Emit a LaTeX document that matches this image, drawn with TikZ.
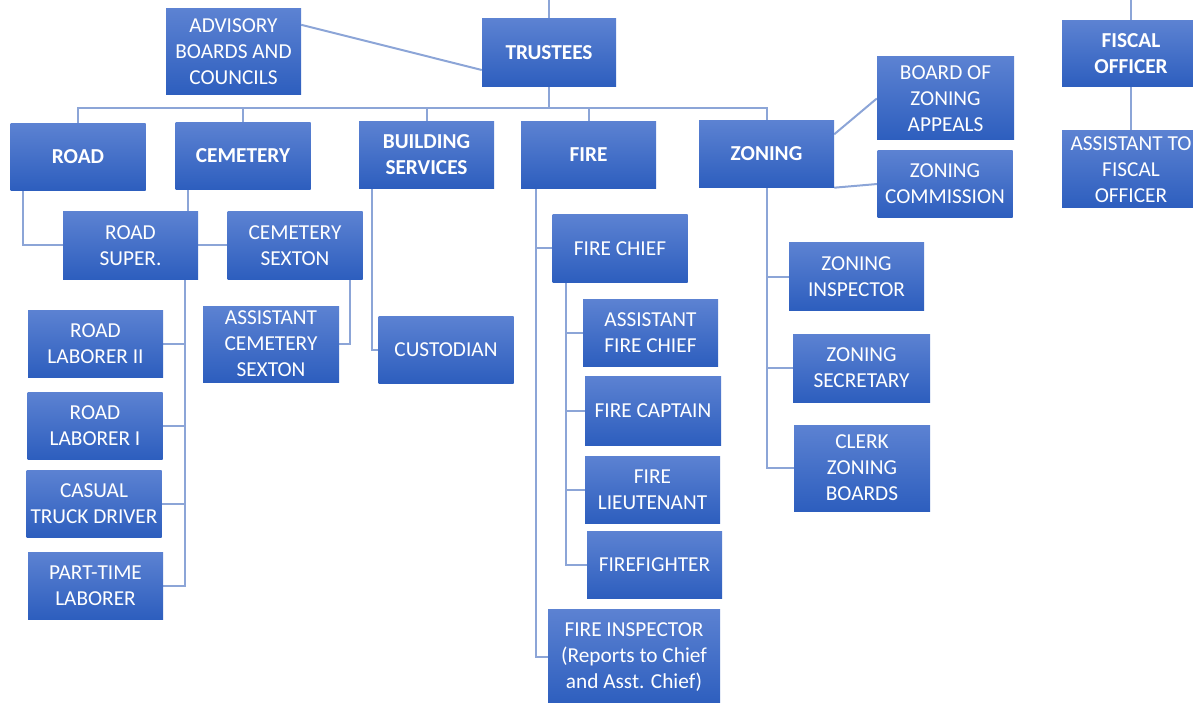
\documentclass[tikz,border=0pt]{standalone}
\usepackage{fontspec}
\setmainfont{Carlito}
\usetikzlibrary{backgrounds}
\definecolor{boxtop}{RGB}{92,130,210}
\definecolor{boxbot}{RGB}{45,94,190}
\definecolor{linkc}{RGB}{140,165,215}

\begin{document}
\begin{tikzpicture}[x=1pt, y=-1pt,
        N/.style = {top color=boxtop, bottom color=boxbot, draw=none,
                    text=white, align=center, inner sep=0pt,
                    minimum width=135pt, minimum height=67pt,
                    font=\fontsize{21.3}{26}\selectfont},
        H/.style = {N, font=\fontsize{21.3}{26}\selectfont\bfseries},
        S/.style 2 args = {minimum width=#1pt, minimum height=#2pt},
        L/.style = {draw=linkc, line width=2pt}
                    ]
        \useasboundingbox (0,0) rectangle (1193,703);
        \clip (0,0) rectangle (1193,703);
        % top row
        \node[N, S={135}{86}] (adv)      at (233.5,52)   {ADVISORY\\BOARDS AND\\COUNCILS};
        \node[H, S={134}{68}] (trustees) at (549,53)     {TRUSTEES};
        \node[H, S={138}{66}] (fiscal)   at (1131,54)    {FISCAL\\OFFICER};
        \node[N, S={138}{77}] (afiscal)  at (1131,169.5) {ASSISTANT TO\\FISCAL\\OFFICER};
        % departments
        \node[H] (road)     at (78,157)    {ROAD};
        \node[H] (cemetery) at (243,156)   {CEMETERY};
        \node[H] (building) at (426.5,155) {BUILDING\\SERVICES};
        \node[H] (fire)     at (588.5,155) {FIRE};
        \node[H] (zoning)   at (766.5,154) {ZONING};
        \node[N, S={137}{83}] (boza) at (945.5,98.5) {BOARD OF\\ZONING\\APPEALS};
        \node[N] (zcomm) at (945,184) {ZONING\\COMMISSION};
        % road
        \node[N] (rsuper)   at (130.5,245.5) {ROAD\\SUPER.};
        \node[N] (rl2)      at (95.5,343.5)  {ROAD\\LABORER II};
        \node[N] (rl1)      at (95,425.5)    {ROAD\\LABORER I};
        \node[N] (truck)    at (94,503.5)    {CASUAL\\TRUCK DRIVER};
        \node[N] (parttime) at (95.5,585.5)  {PART-TIME\\LABORER};
        % cemetery and building
        \node[N] (sexton) at (295,245.5) {CEMETERY\\SEXTON};
        \node[N, S={136}{76}] (asexton) at (271,344) {ASSISTANT\\CEMETERY\\SEXTON};
        \node[N] (custodian) at (446,349.5) {CUSTODIAN};
        % fire
        \node[N] (fchief)  at (620,248.5) {FIRE CHIEF};
        \node[N] (afchief) at (650.5,333) {ASSISTANT\\FIRE CHIEF};
        \node[N, S={136}{69}] (captain) at (653,410.5) {FIRE CAPTAIN};
        \node[N] (lieut)    at (652.5,489.5) {FIRE\\LIEUTENANT};
        \node[N] (ffighter) at (654.5,565)   {FIREFIGHTER};
        \node[N, S={172}{96}] (inspector) at (634,657)
            {FIRE INSPECTOR\\(Reports to Chief\\and Asst. Chief)};
        % zoning
        \node[N] (zinsp) at (856.5,276.5) {ZONING\\INSPECTOR};
        \node[N, S={137}{68}] (zsec)  at (861.5,368) {ZONING\\SECRETARY};
        \node[N, S={136}{86}] (clerk) at (862,468)   {CLERK\\ZONING\\BOARDS};

        % connectors
        \begin{scope}[on background layer]
        \coordinate (tT) at (549,0);
        \coordinate (tF) at (1131,0);
        \draw[L] (tT) -- (trustees.north);
        \draw[L] (tF) -- (fiscal.north);
        \draw[L] (fiscal) -- (afiscal);
        \draw[L] ([yshift=-16pt]adv.north east) -- ([yshift=-17pt]trustees.west);
        \draw[L] (trustees.south) -- ++(0,21) coordinate (bus);
        \foreach \d in {road,cemetery,building,fire,zoning}
            \draw[L] (bus) -| (\d.north);
        \draw[L] ([yshift=-14pt]zoning.north east) -- (boza.west);
        \draw[L] (zoning.south east) -- (zcomm.west);
        \draw[L] ([xshift=13pt]road.south west) |- (rsuper.west);
        \draw[L] ([xshift=13pt]cemetery.south west) |- (sexton.west);
        \draw[L] ([xshift=-13pt]sexton.south east) |- (asexton.east);
        \foreach \r in {rl2,rl1,truck,parttime}
            \draw[L] ([xshift=-13pt]rsuper.south east) |- (\r.east);
        \draw[L] ([xshift=13pt]building.south west) |- (custodian.west);
        \foreach \f in {fchief,inspector}
            \draw[L] ([xshift=15pt]fire.south west) |- (\f.west);
        \foreach \f in {afchief,captain,lieut,ffighter}
            \draw[L] ([xshift=14pt]fchief.south west) |- (\f.west);
        \foreach \z in {zinsp,zsec,clerk}
            \draw[L] (zoning.south) |- (\z.west);
        \end{scope}
\end{tikzpicture}
\end{document}
